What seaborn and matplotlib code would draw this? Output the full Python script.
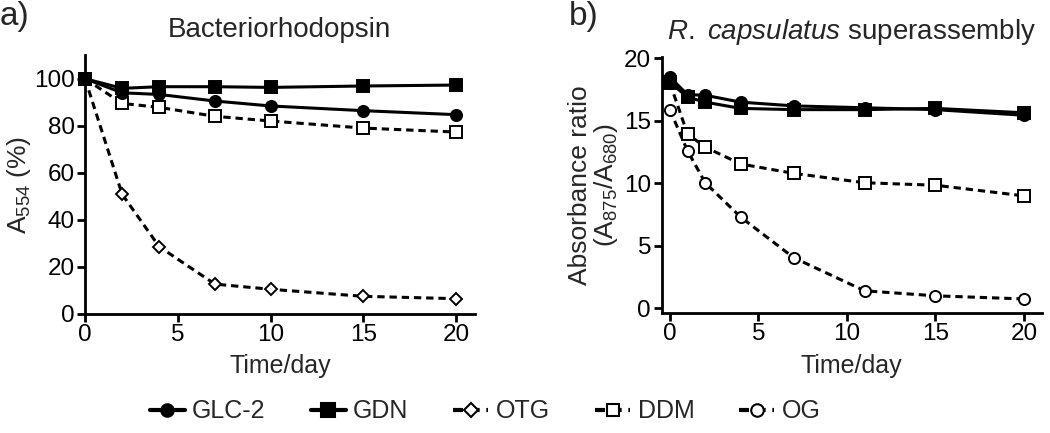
import matplotlib
matplotlib.use("Agg")
import matplotlib.pyplot as plt
import seaborn as sns

# panel a: bacteriorhodopsin, A554 (%)
days_a = [0, 2, 4, 7, 10, 15, 20]
glc2_a = [100, 94.0, 93.3, 90.5, 88.4, 86.4, 84.7]
gdn_a = [100, 95.9, 96.6, 96.6, 96.3, 96.9, 97.3]
otg_a = [100, 50.8, 28.5, 12.6, 10.4, 7.4, 6.4]
ddm_a = [100, 89.5, 87.8, 84.0, 82.0, 79.0, 77.3]

# panel b: R. capsulatus superassembly, A875/A680
days_b = [0, 1, 2, 4, 7, 11, 15, 20]
glc2_b = [18.5, 17.1, 17.05, 16.5, 16.2, 16.05, 15.9, 15.45]
gdn_b = [18.1, 16.9, 16.5, 16.0, 15.9, 15.9, 16.0, 15.65]
ddm_b = [18.05, 13.95, 12.9, 11.55, 10.8, 10.05, 9.85, 9.0]
og_b = [15.9, 12.6, 10.05, 7.3, 4.05, 1.4, 1.0, 0.75]

sns.set_theme(style="ticks")
plt.rcParams["font.family"] = ["Liberation Sans", "DejaVu Sans"]
plt.rcParams["mathtext.fontset"] = "custom"
plt.rcParams["mathtext.rm"] = "Liberation Sans"
plt.rcParams["mathtext.it"] = "Liberation Sans:italic"

styles = {
    "GLC-2": dict(marker="o", ms=8, mfc="black", ls="-"),
    "GDN": dict(marker="s", ms=8.5, mfc="black", ls="-"),
    "OTG": dict(marker="D", ms=6.5, mfc="white", ls=(0, (2.4, 1.6))),
    "DDM": dict(marker="s", ms=8, mfc="white", ls=(0, (2.4, 1.6))),
    "OG": dict(marker="o", ms=8, mfc="white", ls=(0, (2.4, 1.6))),
}

fig = plt.figure(figsize=(10.5, 4.33), dpi=100)
ax_a = fig.add_axes([0.081, 0.2755, 0.371, 0.597])
ax_b = fig.add_axes([0.630, 0.277, 0.362, 0.591])

def draw(ax, x, y, name):
    st = styles[name]
    sns.lineplot(x=x, y=y, ax=ax, color="black", lw=2.2, marker=st["marker"],
                 markersize=st["ms"], markerfacecolor=st["mfc"], markeredgecolor="black",
                 markeredgewidth=1.4, linestyle=st["ls"], clip_on=False, label=name,
                 legend=False)

draw(ax_a, days_a, otg_a, "OTG")
draw(ax_a, days_a, ddm_a, "DDM")
draw(ax_a, days_a, glc2_a, "GLC-2")
draw(ax_a, days_a, gdn_a, "GDN")

draw(ax_b, days_b, og_b, "OG")
draw(ax_b, days_b, ddm_b, "DDM")
draw(ax_b, days_b, glc2_b, "GLC-2")
draw(ax_b, days_b, gdn_b, "GDN")

ax_a.set_xlim(0, 21)
ax_a.set_ylim(0, 110)
ax_a.set_xticks([0, 5, 10, 15, 20])
ax_a.set_yticks([0, 20, 40, 60, 80, 100])
ax_a.set_ylabel("A$_{554}$ (%)", fontsize=19)
ax_a.yaxis.set_label_coords(-0.134, 0.5)
ax_a.set_title("Bacteriorhodopsin", fontsize=20, pad=13)

ax_b.set_xlim(-0.47, 21)
ax_b.set_ylim(-0.38, 20.1)
ax_b.set_xticks([0, 5, 10, 15, 20])
ax_b.set_yticks([0, 5, 10, 15, 20])
ax_b.set_ylabel("Absorbance ratio\n(A$_{875}$/A$_{680}$)", fontsize=19, labelpad=3,
                linespacing=1.0)
ax_b.set_title(r"$\it{R.\ capsulatus}$ superassembly", fontsize=20, pad=13)

for ax in (ax_a, ax_b):
    ax.set_xlabel("Time/day", fontsize=18, labelpad=6)
    ax.tick_params(axis="both", labelsize=17.5, width=2, length=6, color="black",
                   labelcolor="black", pad=1.5)
    for side in ("top", "right"):
        ax.spines[side].set_visible(False)
    for side in ("left", "bottom"):
        ax.spines[side].set_linewidth(2)
        ax.spines[side].set_color("black")

fig.text(0.0, 0.962, "a)", fontsize=24, va="center", ha="left")
fig.text(0.542, 0.962, "b)", fontsize=24, va="center", ha="left")

# legend
handles = []
labels = []
for name in ["GLC-2", "GDN", "OTG", "DDM", "OG"]:
    st = styles[name]
    h, = ax_b.plot([], [], color="black", lw=3, marker=st["marker"], markersize=st["ms"] + 1,
                   markerfacecolor=st["mfc"], markeredgecolor="black", markeredgewidth=1.5,
                   linestyle=st["ls"])
    handles.append(h)
    labels.append(name)
fig.legend(handles, labels, loc="center", bbox_to_anchor=(0.462, 0.05), ncol=5,
           frameon=False, fontsize=18, handlelength=1.4, handletextpad=0.3,
           columnspacing=1.8)

fig.savefig("out.png", dpi=100)
plt.close(fig)
